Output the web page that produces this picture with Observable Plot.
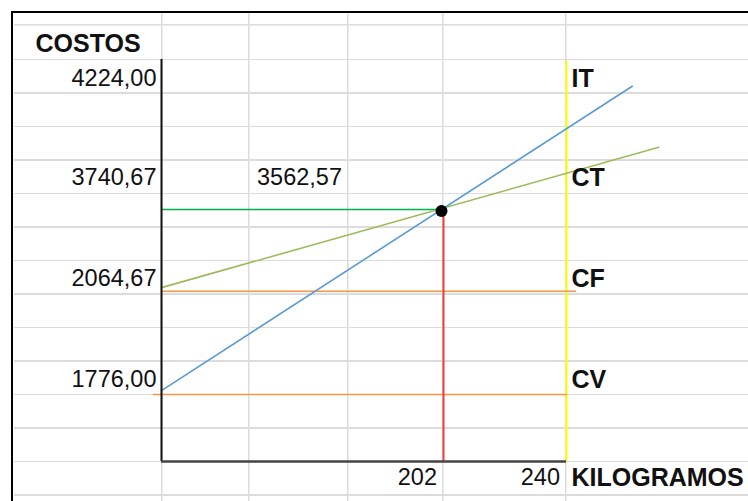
<!DOCTYPE html>
<html>
<head>
<meta charset="utf-8">
<script src="https://cdn.jsdelivr.net/npm/d3@7"></script>
<script src="https://cdn.jsdelivr.net/npm/@observablehq/plot@0.6"></script>
<style>
html, body { margin: 0; padding: 0; background: #fff; }
#sheet { position: relative; width: 748px; height: 501px; overflow: hidden; background: #fff; }
#grid {
  position: absolute; left: 0; top: 0; width: 748px; height: 501px;
  background:
    linear-gradient(#000, #000) 12px 11px / 736px 2px no-repeat,
    linear-gradient(#000, #000) 11px 11px / 2px 490px no-repeat,
    linear-gradient(#dcdcdc, #dcdcdc) 160.5px 13px / 1.5px 488px no-repeat,
    linear-gradient(#dcdcdc, #dcdcdc) 247.5px 13px / 1.5px 488px no-repeat,
    linear-gradient(#dcdcdc, #dcdcdc) 347px 13px / 1.5px 488px no-repeat,
    linear-gradient(#dcdcdc, #dcdcdc) 441.5px 13px / 1.5px 488px no-repeat,
    linear-gradient(#dcdcdc, #dcdcdc) 565px 13px / 1.5px 488px no-repeat,
    linear-gradient(#dcdcdc, #dcdcdc) 14px 23.5px / 734px 1.5px no-repeat,
    repeating-linear-gradient(to bottom, #dcdcdc 0px, #dcdcdc 1.5px, transparent 1.5px, transparent 33.48px) 14px 58.5px / 734px 442.5px no-repeat;
}
#chart { position: absolute; left: 0; top: 0; }
</style>
</head>
<body>
<div id="sheet"><div id="grid"></div><div id="chart"></div></div>
<script>
// ---- data (schematic spreadsheet chart) ----
const kgAnchors = [0, 202, 240];
const costAnchors = [0, 1776, 2064.67, 3562.57, 3740.67, 4224, 5000];

const costLabels = ["4224,00", "3740,67", "2064,67", "1776,00"];
const costLabelValues = [4224, 3740.67, 2064.67, 1776];
const seriesNames = ["IT", "CT", "CF", "CV"];

const itKg = [0, 260.3];
const itCost = [1787, 4700];
const ctKg = [0, 268.5];
const ctCost = [2130, 4023];
const cfKg = [0, 242.8];
const cfCost = [2064.67, 2064.67];
const cvKg = [-5.9, 240];
const cvCost = [1776, 1776];

const kgTicks = [202, 240];
const kgTickLabels = ["202", "240"];
const breakEvenKg = 202;
const breakEvenCost = 3562.57;
const breakEvenLabel = "3562,57";
const maxKg = 240;
const maxCost = 5000;
const yTitle = "COSTOS";
const xTitle = "KILOGRAMOS";

// ---- build ----
const pts = (xs, ys) => xs.map((k, i) => ({kg: k, cost: ys[i]}));
const font = "'Liberation Sans', Arial, sans-serif";
const txt = "#111";
const rowDy = [-50, 4.3, -12.7, -15];

const marks = [
  Plot.ruleX([maxKg], {y1: 0, y2: maxCost - 20, stroke: "#ffff00", strokeWidth: 2}),
  Plot.line(pts(cfKg, cfCost), {x: "kg", y: "cost", stroke: "#f79646", strokeWidth: 1.6}),
  Plot.line(pts(cvKg, cvCost), {x: "kg", y: "cost", stroke: "#f79646", strokeWidth: 1.6}),
  Plot.ruleY([breakEvenCost], {x1: 0, x2: breakEvenKg, stroke: "#00b050", strokeWidth: 1.6}),
  Plot.ruleX([breakEvenKg], {y1: 0, y2: breakEvenCost, stroke: "#f03c3c", strokeWidth: 2}),
  Plot.line(pts(ctKg, ctCost), {x: "kg", y: "cost", stroke: "#9bbb59", strokeWidth: 1.6}),
  Plot.line(pts(itKg, itCost), {x: "kg", y: "cost", stroke: "#5b9bd5", strokeWidth: 1.6}),
  Plot.ruleX([0], {y1: 0, y2: maxCost, stroke: "#111", strokeWidth: 2}),
  Plot.ruleY([0], {x1: 0, x2: maxKg, stroke: "#444", strokeWidth: 2.5}),
  Plot.dot([{kg: breakEvenKg, cost: breakEvenCost}], {x: "kg", y: "cost", r: 6, fill: "#000", dx: -2, dy: 1.5}),
  Plot.text([breakEvenLabel], {x: breakEvenKg, y: breakEvenCost, text: d => d, dx: -101.5, dy: -32.5,
    textAnchor: "end", fontSize: 23.5, fontFamily: font, fill: txt}),
  Plot.text(kgTickLabels, {x: (d, i) => kgTicks[i], y: 0, text: d => d, dx: -6.5, dy: 16,
    textAnchor: "end", fontSize: 23.5, fontFamily: font, fill: txt}),
  Plot.text([xTitle], {x: maxKg, y: 0, text: d => d, dx: 5, dy: 16,
    textAnchor: "start", fontSize: 25, fontWeight: "bold", fontFamily: font, fill: txt}),
  Plot.text([yTitle], {x: 0, y: maxCost, text: d => d, dx: -126, dy: -15.5,
    textAnchor: "start", fontSize: 25, fontWeight: "bold", fontFamily: font, fill: txt})
];
costLabels.forEach((lab, i) => {
  marks.push(Plot.text([lab], {x: 0, y: costLabelValues[i], text: d => d, dx: -5, dy: rowDy[i],
    textAnchor: "end", fontSize: 23.5, fontFamily: font, fill: txt}));
  marks.push(Plot.text([seriesNames[i]], {x: maxKg, y: costLabelValues[i], text: d => d, dx: 5, dy: rowDy[i],
    textAnchor: "start", fontSize: 25, fontWeight: "bold", fontFamily: font, fill: txt}));
});

const chart = Plot.plot({
  width: 748,
  height: 501,
  margin: 0,
  style: {background: "transparent", overflow: "visible"},
  x: {type: "linear", domain: kgAnchors, range: [161, 443, 566], axis: null},
  y: {type: "linear", domain: costAnchors, range: [461, 394, 290.7, 209, 172.7, 128.2, 59], axis: null},
  marks
});
document.getElementById("chart").appendChild(chart);
</script>
</body>
</html>
